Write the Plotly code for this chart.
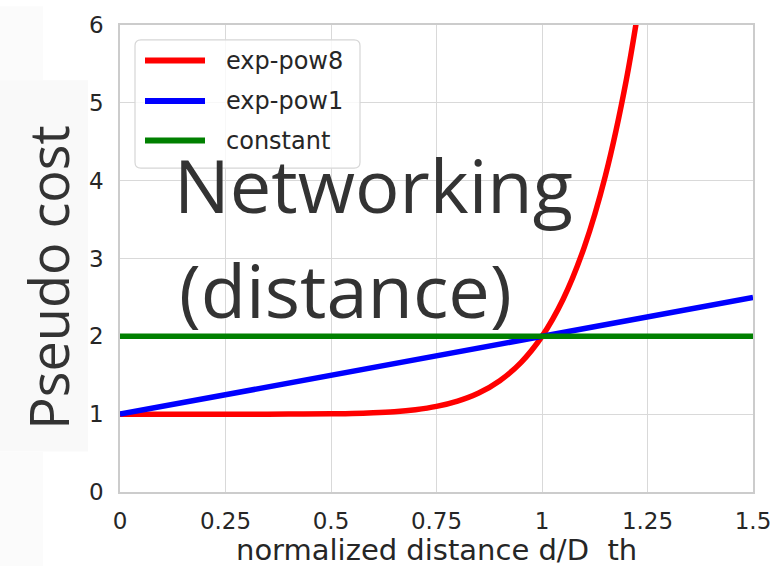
import plotly.graph_objects as go

# ---- data ----
x_pow8 = [0, 0.1, 0.2, 0.3, 0.4, 0.5, 0.55, 0.6, 0.65, 0.7, 0.75, 0.8, 0.85,
          0.9, 0.95, 1.0, 1.05, 1.1, 1.15, 1.2, 1.25]
y_pow8 = [1.0, 1.0, 1.0, 1.0001, 1.0007, 1.004, 1.008, 1.017, 1.032, 1.058,
          1.10, 1.168, 1.272, 1.43, 1.663, 2.0, 2.477, 3.144, 4.059, 5.30, 6.96]
x_pow1 = [0, 1.5]
y_pow1 = [1.0, 2.5]
x_const = [0, 1.5]
y_const = [2.0, 2.0]

series_names = ["exp-pow8", "exp-pow1", "constant"]
series_colors = ["#ff0000", "#0000ff", "#008000"]

x_ticks = [0, 0.25, 0.5, 0.75, 1, 1.25, 1.5]
x_ticktext = ["0", "0.25", "0.5", "0.75", "1", "1.25", "1.5"]
y_ticks = [0, 1, 2, 3, 4, 5, 6]
y_ticktext = ["0", "1", "2", "3", "4", "5", "6"]

x_title = "normalized distance d/D\u00a0\u00a0th"
y_title = "Pseudo cost"
overlay_lines = ["Networking", "(distance)"]

# ---- layout geometry (pixels) ----
W, H = 783, 567
L, R, T, B = 120, 30, 19, 75
PW, PH = W - L - R, H - T - B


def px(xp):
    return (xp - L) / PW


def py(yp):
    return (H - B - yp) / PH


fig = go.Figure()
for xs, ys, name, col in zip([x_pow8, x_pow1, x_const], [y_pow8, y_pow1, y_const],
                             series_names, series_colors):
    fig.add_trace(go.Scatter(x=xs, y=ys, mode="lines", name=name,
                             line=dict(color=col, width=5.5, shape="spline"),
                             showlegend=False, hoverinfo="skip"))

shapes = []
# faint background patches behind y title
shapes.append(dict(type="rect", xref="paper", yref="paper", layer="below",
                   x0=px(0), x1=px(88), y0=py(451), y1=py(75),
                   fillcolor="#f9f9f9", line=dict(width=0)))
shapes.append(dict(type="rect", xref="paper", yref="paper", layer="below",
                   x0=px(0), x1=px(43), y0=py(75), y1=py(0),
                   fillcolor="#fbfbfb", line=dict(width=0)))
shapes.append(dict(type="rect", xref="paper", yref="paper", layer="below",
                   x0=px(0), x1=px(43), y0=py(567), y1=py(451),
                   fillcolor="#fbfbfb", line=dict(width=0)))

# custom legend box (rounded)
bx0, bx1, by0, by1, r = 135, 360, 34, 164, 6
rx, ry = r / PW, r / PH
X0, X1, Y0, Y1 = px(bx0), px(bx1), py(by1), py(by0)
path = (f"M{X0+rx},{Y0} L{X1-rx},{Y0} Q{X1},{Y0} {X1},{Y0+ry} "
        f"L{X1},{Y1-ry} Q{X1},{Y1} {X1-rx},{Y1} L{X0+rx},{Y1} "
        f"Q{X0},{Y1} {X0},{Y1-ry} L{X0},{Y0+ry} Q{X0},{Y0} {X0+rx},{Y0} Z")
shapes.append(dict(type="path", xref="paper", yref="paper", path=path,
                   fillcolor="rgba(255,255,255,0.8)",
                   line=dict(color="#d6d6d6", width=1.2), layer="above"))
annotations = []
leg_rows = [55, 96, 136]
for yrow, name, col in zip(leg_rows, series_names, series_colors):
    shapes.append(dict(type="line", xref="paper", yref="paper",
                       x0=px(145), x1=px(205), y0=py(yrow), y1=py(yrow),
                       line=dict(color=col, width=6), layer="above"))
    annotations.append(dict(xref="paper", yref="paper", x=px(224), y=py(yrow),
                            text=name, showarrow=False, xanchor="left",
                            yanchor="middle",
                            font=dict(family="DejaVu Sans", size=24, color="#262626")))

# overlay big text
annotations.append(dict(xref="paper", yref="paper", x=px(172), y=py(181),
                        text=overlay_lines[0], showarrow=False, xanchor="left",
                        yanchor="middle",
                        font=dict(family="Open Sans", size=74, color="#333333")))
annotations.append(dict(xref="paper", yref="paper", x=px(177), y=py(287),
                        text=overlay_lines[1], showarrow=False, xanchor="left",
                        yanchor="middle",
                        font=dict(family="Open Sans", size=74, color="#333333")))
# y title
annotations.append(dict(xref="paper", yref="paper", x=px(48), y=py(275),
                        text=y_title, showarrow=False, textangle=-90,
                        xanchor="center", yanchor="middle",
                        font=dict(family="Open Sans", size=54, color="#333333")))
# x title
annotations.append(dict(xref="paper", yref="paper", x=px(436), y=py(551),
                        text=x_title, showarrow=False,
                        xanchor="center", yanchor="middle",
                        font=dict(family="DejaVu Sans", size=29, color="#262626")))

fig.update_layout(
    width=W, height=H,
    margin=dict(l=L, r=R, t=T, b=B),
    paper_bgcolor="white", plot_bgcolor="white",
    shapes=shapes, annotations=annotations,
    xaxis=dict(range=[0, 1.5], tickvals=x_ticks, ticktext=x_ticktext,
               showgrid=True, gridcolor="#d9d9d9", gridwidth=1.2,
               showline=True, linecolor="#cccccc", linewidth=1.5, mirror=True,
               zeroline=False, ticks="", ticklabelstandoff=8,
               tickfont=dict(family="DejaVu Sans", size=23, color="#262626")),
    yaxis=dict(range=[0, 6], tickvals=y_ticks, ticktext=y_ticktext,
               showgrid=True, gridcolor="#d9d9d9", gridwidth=1.2,
               showline=True, linecolor="#cccccc", linewidth=1.5, mirror=True,
               zeroline=False, ticks="", ticklabelstandoff=10,
               tickfont=dict(family="DejaVu Sans", size=23, color="#262626")),
)

fig.write_html("out.html")
